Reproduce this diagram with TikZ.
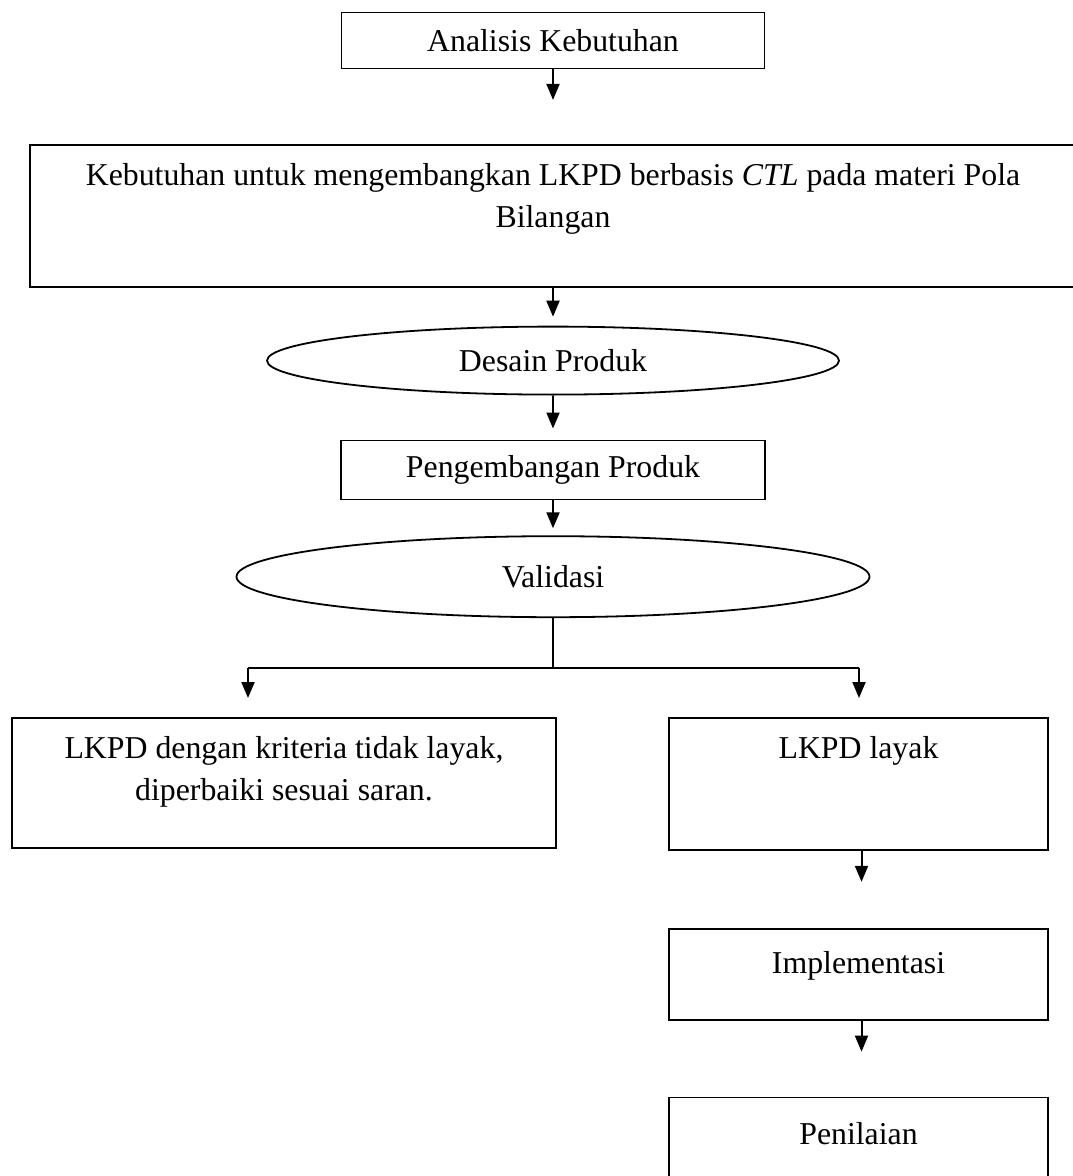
\documentclass[tikz,border=0pt]{standalone}
\usepackage{fontspec}
\setmainfont{Liberation Serif}
\usetikzlibrary{positioning,shapes.geometric,arrows.meta}

\begin{document}
\begin{tikzpicture}[
  every node/.style={font=\fontsize{15.9}{21}\selectfont},
  box/.style={draw, line width=0.9pt, inner sep=0pt, align=flush center},
  oval/.style={draw, ellipse, line width=0.9pt, inner sep=0pt},
  arrow/.style={-{Triangle[width=6.5pt,length=8pt]}, line width=1pt}
]
\useasboundingbox (0,0) rectangle (536pt,-588pt);

\node (analisis) [box, minimum width=211.5pt, minimum height=28pt] at (276.5pt,-20.25pt) {Analisis Kebutuhan};
\node (kebutuhan) [box, below=37.25pt of analisis, text width=523pt, text height=20.5pt, text depth=50.5pt] {Kebutuhan untuk mengembangkan LKPD berbasis \textit{CTL} pada materi Pola\\Bilangan};
\node (desain) [oval, below=19pt of kebutuhan, minimum width=286pt, minimum height=34pt] {Desain Produk};
\node (pengembangan) [box, below=22pt of desain, minimum width=212pt, minimum height=29.5pt] {Pengembangan Produk};
\node (validasi) [oval, below=17.5pt of pengembangan, minimum width=316.5pt, minimum height=40.5pt] {Validasi};
\coordinate (splitL) at (124pt,-334pt);
\coordinate (splitR) at (429.5pt,-334pt);
\coordinate (split) at (validasi.south |- splitL);

\node (tidak) [box, anchor=north, text width=272pt, text height=20.5pt, text depth=44.5pt] at (142pt,-358.5pt) {LKPD dengan kriteria tidak layak,\\diperbaiki sesuai saran.};
\node (layak) [box, anchor=north, text width=189.5pt, text height=20.5pt, text depth=45.5pt] at (429.25pt,-358.5pt) {LKPD layak};
\node (implementasi) [box, below=38.5pt of layak, text width=189.5pt, text height=22.5pt, text depth=23pt] {Implementasi};
\node (penilaian) [box, below=38pt of implementasi, text width=189.5pt, text height=23.5pt, text depth=25pt] {Penilaian};

\draw[arrow, shorten >=22pt] (analisis) -- (kebutuhan);
\draw[arrow, shorten >=4.5pt] (kebutuhan) -- (desain);
\draw[arrow, shorten >=5.5pt] (desain) -- (pengembangan);
\draw[arrow, shorten >=3.5pt] (pengembangan) -- (validasi);
\draw[line width=1pt] (validasi) -- (split);
\draw[line width=1pt] (splitL) -- (splitR);
\draw[arrow, shorten >=9.5pt] (splitL) -- (splitL |- tidak.north);
\draw[arrow, shorten >=9.5pt] (splitR) -- (splitR |- layak.north);
\draw[arrow, shorten >=23pt] ([xshift=1.5pt]layak.south) -- ([xshift=1.5pt]implementasi.north);
\draw[arrow, shorten >=22.5pt] ([xshift=1.5pt]implementasi.south) -- ([xshift=1.5pt]penilaian.north);
\end{tikzpicture}
\end{document}
